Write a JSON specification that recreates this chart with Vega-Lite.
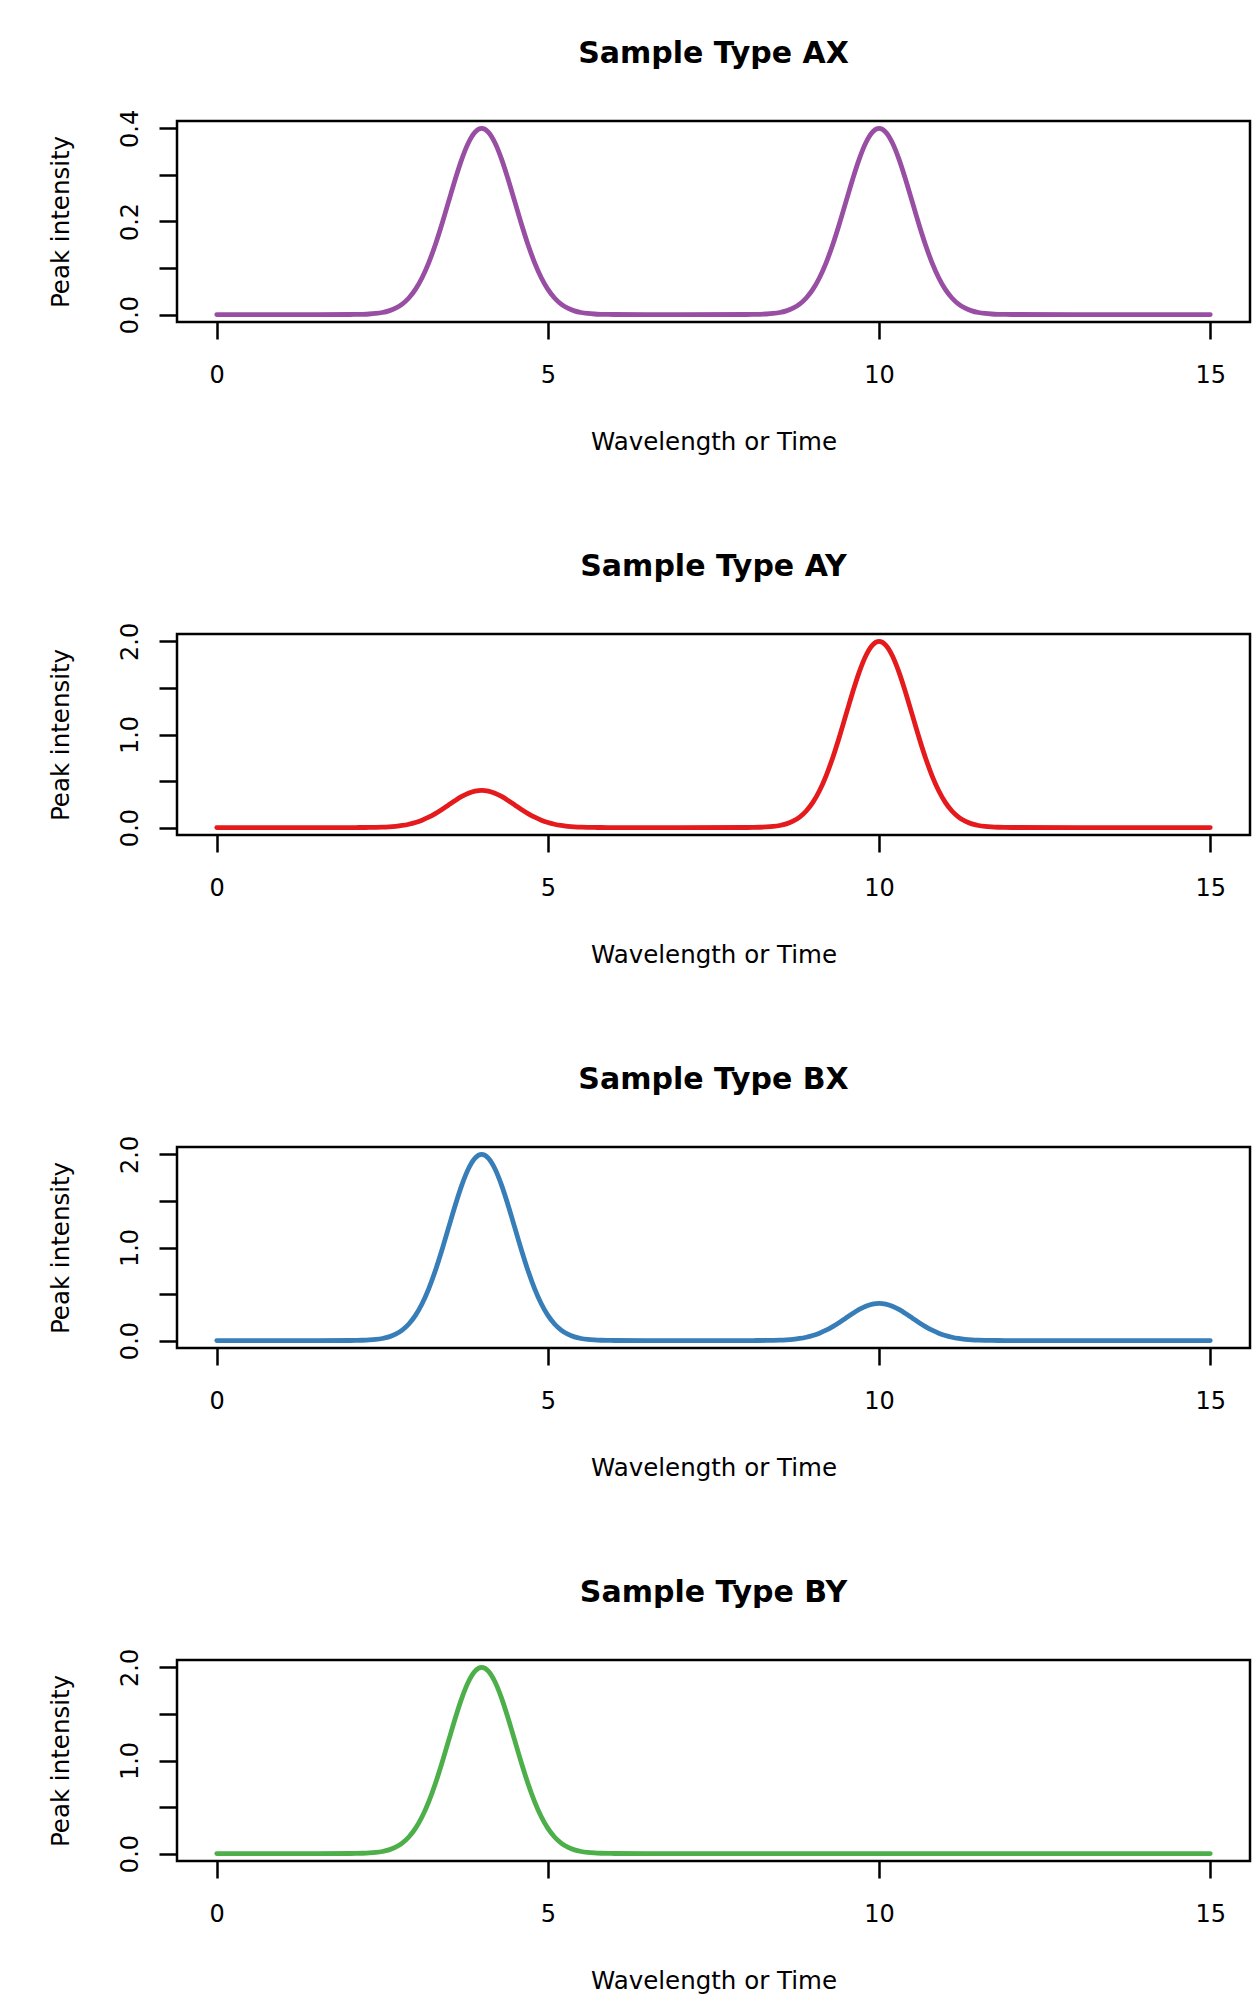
{
  "$schema": "https://vega.github.io/schema/vega-lite/v6.json",
  "padding": {"left": 47, "top": 38, "right": 0, "bottom": 0},
  "background": "white",
  "bounds": "flush",
  "spacing": 312,
  "config": {
    "font": "DejaVu Sans",
    "view": {"stroke": "black", "strokeWidth": 2.5},
    "axis": {
      "domain": false, "grid": false, "ticks": true,
      "tickColor": "black", "tickWidth": 2.5,
      "labelColor": "black", "titleColor": "black",
      "labelFont": "DejaVu Sans", "titleFont": "DejaVu Sans",
      "labelFontSize": 24, "titleFontSize": 24.5, "titleFontWeight": "normal",
      "labelOverlap": false, "labelFlush": false
    },
    "axisX": {
      "tickSize": 17, "labelPadding": 43, "labelBaseline": "alphabetic", "labelAlign": "center",
      "titleBaseline": "alphabetic", "titleAlign": "center", "titleX": 536.5, "titleY": 127
    },
    "axisY": {
      "tickSize": 18, "labelAngle": -90, "labelAlign": "center", "labelBaseline": "alphabetic", "labelPadding": 22,
      "titleAngle": -90, "titleAlign": "center", "titleBaseline": "alphabetic", "titleX": -108.5, "titleY": 100.5
    },
    "title": {
      "font": "DejaVu Sans", "fontSize": 30, "fontWeight": "bold", "color": "black",
      "anchor": "middle", "frame": "group", "baseline": "alphabetic", "offset": 40
    }
  },
  "datasets": {
    "d": [
      {"x":0,"AX":0,"AY":0,"BX":0,"BY":0},
      {"x":1,"AX":0,"AY":0,"BX":0,"BY":0},
      {"x":2,"AX":0.0001,"AY":0.0001,"BX":0.0007,"BY":0.0007},
      {"x":2.1,"AX":0.0003,"AY":0.0003,"BX":0.0015,"BY":0.0015},
      {"x":2.2,"AX":0.0006,"AY":0.0006,"BX":0.0031,"BY":0.0031},
      {"x":2.3,"AX":0.0012,"AY":0.0012,"BX":0.0062,"BY":0.0062},
      {"x":2.4,"AX":0.0024,"AY":0.0024,"BX":0.0119,"BY":0.0119},
      {"x":2.5,"AX":0.0044,"AY":0.0044,"BX":0.0222,"BY":0.0222},
      {"x":2.6,"AX":0.0079,"AY":0.0079,"BX":0.0397,"BY":0.0397},
      {"x":2.7,"AX":0.0136,"AY":0.0136,"BX":0.068,"BY":0.068},
      {"x":2.8,"AX":0.0224,"AY":0.0224,"BX":0.1122,"BY":0.1122},
      {"x":2.9,"AX":0.0356,"AY":0.0356,"BX":0.1778,"BY":0.1778},
      {"x":3,"AX":0.0541,"AY":0.0541,"BX":0.2707,"BY":0.2707},
      {"x":3.1,"AX":0.0792,"AY":0.0792,"BX":0.3958,"BY":0.3958},
      {"x":3.2,"AX":0.1112,"AY":0.1112,"BX":0.5561,"BY":0.5561},
      {"x":3.3,"AX":0.1501,"AY":0.1501,"BX":0.7506,"BY":0.7506},
      {"x":3.4,"AX":0.1947,"AY":0.1947,"BX":0.9735,"BY":0.9735},
      {"x":3.5,"AX":0.2426,"AY":0.2426,"BX":1.2131,"BY":1.2131},
      {"x":3.6,"AX":0.2904,"AY":0.2904,"BX":1.4522,"BY":1.4522},
      {"x":3.7,"AX":0.3341,"AY":0.3341,"BX":1.6706,"BY":1.6706},
      {"x":3.8,"AX":0.3692,"AY":0.3692,"BX":1.8462,"BY":1.8462},
      {"x":3.9,"AX":0.3921,"AY":0.3921,"BX":1.9604,"BY":1.9604},
      {"x":4,"AX":0.4,"AY":0.4,"BX":2,"BY":2},
      {"x":4.1,"AX":0.3921,"AY":0.3921,"BX":1.9604,"BY":1.9604},
      {"x":4.2,"AX":0.3692,"AY":0.3692,"BX":1.8462,"BY":1.8462},
      {"x":4.3,"AX":0.3341,"AY":0.3341,"BX":1.6706,"BY":1.6706},
      {"x":4.4,"AX":0.2904,"AY":0.2904,"BX":1.4522,"BY":1.4522},
      {"x":4.5,"AX":0.2426,"AY":0.2426,"BX":1.2131,"BY":1.2131},
      {"x":4.6,"AX":0.1947,"AY":0.1947,"BX":0.9735,"BY":0.9735},
      {"x":4.7,"AX":0.1501,"AY":0.1501,"BX":0.7506,"BY":0.7506},
      {"x":4.8,"AX":0.1112,"AY":0.1112,"BX":0.5561,"BY":0.5561},
      {"x":4.9,"AX":0.0792,"AY":0.0792,"BX":0.3958,"BY":0.3958},
      {"x":5,"AX":0.0541,"AY":0.0541,"BX":0.2707,"BY":0.2707},
      {"x":5.1,"AX":0.0356,"AY":0.0356,"BX":0.1778,"BY":0.1778},
      {"x":5.2,"AX":0.0224,"AY":0.0224,"BX":0.1122,"BY":0.1122},
      {"x":5.3,"AX":0.0136,"AY":0.0136,"BX":0.068,"BY":0.068},
      {"x":5.4,"AX":0.0079,"AY":0.0079,"BX":0.0397,"BY":0.0397},
      {"x":5.5,"AX":0.0044,"AY":0.0044,"BX":0.0222,"BY":0.0222},
      {"x":5.6,"AX":0.0024,"AY":0.0024,"BX":0.0119,"BY":0.0119},
      {"x":5.7,"AX":0.0012,"AY":0.0012,"BX":0.0062,"BY":0.0062},
      {"x":5.8,"AX":0.0006,"AY":0.0006,"BX":0.0031,"BY":0.0031},
      {"x":5.9,"AX":0.0003,"AY":0.0003,"BX":0.0015,"BY":0.0015},
      {"x":6,"AX":0.0001,"AY":0.0001,"BX":0.0007,"BY":0.0007},
      {"x":7,"AX":0,"AY":0,"BX":0,"BY":0},
      {"x":8,"AX":0.0001,"AY":0.0007,"BX":0.0001,"BY":0},
      {"x":8.1,"AX":0.0003,"AY":0.0015,"BX":0.0003,"BY":0},
      {"x":8.2,"AX":0.0006,"AY":0.0031,"BX":0.0006,"BY":0},
      {"x":8.3,"AX":0.0012,"AY":0.0062,"BX":0.0012,"BY":0},
      {"x":8.4,"AX":0.0024,"AY":0.0119,"BX":0.0024,"BY":0},
      {"x":8.5,"AX":0.0044,"AY":0.0222,"BX":0.0044,"BY":0},
      {"x":8.6,"AX":0.0079,"AY":0.0397,"BX":0.0079,"BY":0},
      {"x":8.7,"AX":0.0136,"AY":0.068,"BX":0.0136,"BY":0},
      {"x":8.8,"AX":0.0224,"AY":0.1122,"BX":0.0224,"BY":0},
      {"x":8.9,"AX":0.0356,"AY":0.1778,"BX":0.0356,"BY":0},
      {"x":9,"AX":0.0541,"AY":0.2707,"BX":0.0541,"BY":0},
      {"x":9.1,"AX":0.0792,"AY":0.3958,"BX":0.0792,"BY":0},
      {"x":9.2,"AX":0.1112,"AY":0.5561,"BX":0.1112,"BY":0},
      {"x":9.3,"AX":0.1501,"AY":0.7506,"BX":0.1501,"BY":0},
      {"x":9.4,"AX":0.1947,"AY":0.9735,"BX":0.1947,"BY":0},
      {"x":9.5,"AX":0.2426,"AY":1.2131,"BX":0.2426,"BY":0},
      {"x":9.6,"AX":0.2904,"AY":1.4522,"BX":0.2904,"BY":0},
      {"x":9.7,"AX":0.3341,"AY":1.6706,"BX":0.3341,"BY":0},
      {"x":9.8,"AX":0.3692,"AY":1.8462,"BX":0.3692,"BY":0},
      {"x":9.9,"AX":0.3921,"AY":1.9604,"BX":0.3921,"BY":0},
      {"x":10,"AX":0.4,"AY":2,"BX":0.4,"BY":0},
      {"x":10.1,"AX":0.3921,"AY":1.9604,"BX":0.3921,"BY":0},
      {"x":10.2,"AX":0.3692,"AY":1.8462,"BX":0.3692,"BY":0},
      {"x":10.3,"AX":0.3341,"AY":1.6706,"BX":0.3341,"BY":0},
      {"x":10.4,"AX":0.2904,"AY":1.4522,"BX":0.2904,"BY":0},
      {"x":10.5,"AX":0.2426,"AY":1.2131,"BX":0.2426,"BY":0},
      {"x":10.6,"AX":0.1947,"AY":0.9735,"BX":0.1947,"BY":0},
      {"x":10.7,"AX":0.1501,"AY":0.7506,"BX":0.1501,"BY":0},
      {"x":10.8,"AX":0.1112,"AY":0.5561,"BX":0.1112,"BY":0},
      {"x":10.9,"AX":0.0792,"AY":0.3958,"BX":0.0792,"BY":0},
      {"x":11,"AX":0.0541,"AY":0.2707,"BX":0.0541,"BY":0},
      {"x":11.1,"AX":0.0356,"AY":0.1778,"BX":0.0356,"BY":0},
      {"x":11.2,"AX":0.0224,"AY":0.1122,"BX":0.0224,"BY":0},
      {"x":11.3,"AX":0.0136,"AY":0.068,"BX":0.0136,"BY":0},
      {"x":11.4,"AX":0.0079,"AY":0.0397,"BX":0.0079,"BY":0},
      {"x":11.5,"AX":0.0044,"AY":0.0222,"BX":0.0044,"BY":0},
      {"x":11.6,"AX":0.0024,"AY":0.0119,"BX":0.0024,"BY":0},
      {"x":11.7,"AX":0.0012,"AY":0.0062,"BX":0.0012,"BY":0},
      {"x":11.8,"AX":0.0006,"AY":0.0031,"BX":0.0006,"BY":0},
      {"x":11.9,"AX":0.0003,"AY":0.0015,"BX":0.0003,"BY":0},
      {"x":12,"AX":0.0001,"AY":0.0007,"BX":0.0001,"BY":0},
      {"x":13,"AX":0,"AY":0,"BX":0,"BY":0},
      {"x":14,"AX":0,"AY":0,"BX":0,"BY":0},
      {"x":15,"AX":0,"AY":0,"BX":0,"BY":0}
    ]
  },
  "vconcat": [
    {
      "title": {"text": "Sample Type AX"},
      "data": {"name": "d"},
      "width": 1073, "height": 201,
      "mark": {"type": "line", "color": "#984EA3", "strokeWidth": 4.8, "strokeCap": "round", "strokeJoin": "round", "interpolate": "monotone"},
      "encoding": {
        "x": {"field": "x", "type": "quantitative", "scale": {"domain": [-0.6, 15.6], "nice": false, "zero": false},
              "axis": {"values": [0, 5, 10, 15], "format": "d", "title": "Wavelength or Time"}},
        "y": {"field": "AX", "type": "quantitative", "scale": {"domain": [-0.016, 0.416], "nice": false, "zero": false},
              "axis": {"values": [0, 0.1, 0.2, 0.3, 0.4], "labelExpr": "round(datum.value * 10) % 2 == 0 ? format(datum.value, '.1f') : ''", "title": "Peak intensity"}}
      }
    },
    {
      "title": {"text": "Sample Type AY"},
      "data": {"name": "d"},
      "width": 1073, "height": 201,
      "mark": {"type": "line", "color": "#E41A1C", "strokeWidth": 4.8, "strokeCap": "round", "strokeJoin": "round", "interpolate": "monotone"},
      "encoding": {
        "x": {"field": "x", "type": "quantitative", "scale": {"domain": [-0.6, 15.6], "nice": false, "zero": false},
              "axis": {"values": [0, 5, 10, 15], "format": "d", "title": "Wavelength or Time"}},
        "y": {"field": "AY", "type": "quantitative", "scale": {"domain": [-0.08, 2.08], "nice": false, "zero": false},
              "axis": {"values": [0, 0.5, 1, 1.5, 2], "labelExpr": "round(datum.value * 10) % 10 == 0 ? format(datum.value, '.1f') : ''", "title": "Peak intensity"}}
      }
    },
    {
      "title": {"text": "Sample Type BX"},
      "data": {"name": "d"},
      "width": 1073, "height": 201,
      "mark": {"type": "line", "color": "#377EB8", "strokeWidth": 4.8, "strokeCap": "round", "strokeJoin": "round", "interpolate": "monotone"},
      "encoding": {
        "x": {"field": "x", "type": "quantitative", "scale": {"domain": [-0.6, 15.6], "nice": false, "zero": false},
              "axis": {"values": [0, 5, 10, 15], "format": "d", "title": "Wavelength or Time"}},
        "y": {"field": "BX", "type": "quantitative", "scale": {"domain": [-0.08, 2.08], "nice": false, "zero": false},
              "axis": {"values": [0, 0.5, 1, 1.5, 2], "labelExpr": "round(datum.value * 10) % 10 == 0 ? format(datum.value, '.1f') : ''", "title": "Peak intensity"}}
      }
    },
    {
      "title": {"text": "Sample Type BY"},
      "data": {"name": "d"},
      "width": 1073, "height": 201,
      "mark": {"type": "line", "color": "#4DAF4A", "strokeWidth": 4.8, "strokeCap": "round", "strokeJoin": "round", "interpolate": "monotone"},
      "encoding": {
        "x": {"field": "x", "type": "quantitative", "scale": {"domain": [-0.6, 15.6], "nice": false, "zero": false},
              "axis": {"values": [0, 5, 10, 15], "format": "d", "title": "Wavelength or Time"}},
        "y": {"field": "BY", "type": "quantitative", "scale": {"domain": [-0.08, 2.08], "nice": false, "zero": false},
              "axis": {"values": [0, 0.5, 1, 1.5, 2], "labelExpr": "round(datum.value * 10) % 10 == 0 ? format(datum.value, '.1f') : ''", "title": "Peak intensity"}}
      }
    }
  ]
}
